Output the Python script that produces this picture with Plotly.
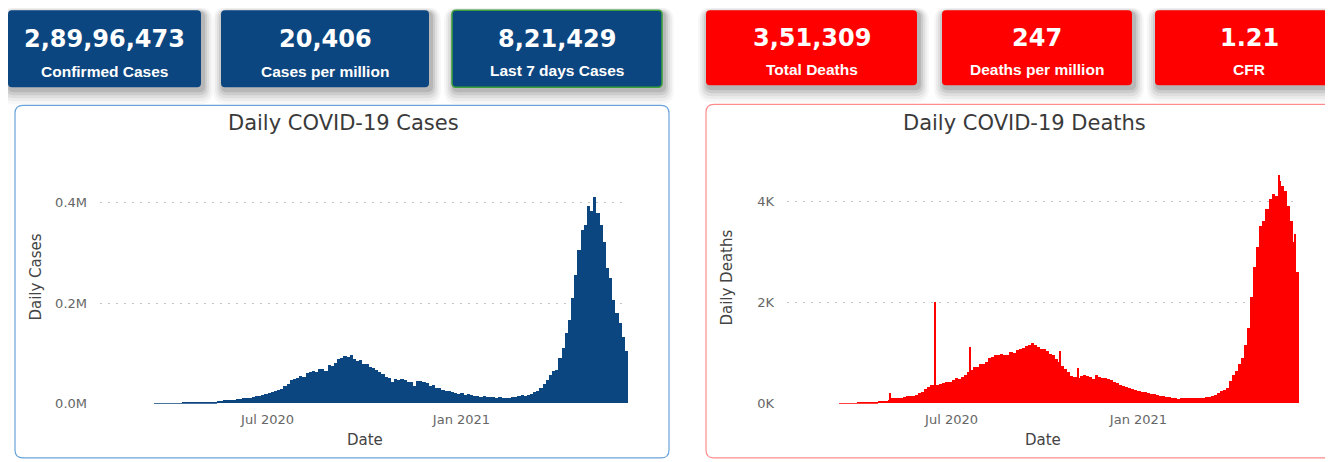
import plotly.graph_objects as go
import pandas as pd

# The page body keeps its default 8px margin; the captured viewport is a little
# taller than the final picture, so vertical layout positions are stretched by YS.
PAGE_MARGIN = 8
YS = 471 / 462
W, H = 1333, 459

# ---------------- data ----------------
START = "2020-01-30"      # first 3-day bin start
BIN_DAYS = 3

# average daily new cases per 3-day bin (thousands)
cases_k = [
    0.001, 0.001, 0, 0, 0, 0, 0, 0, 0, 0,
    0.001, 0.007, 0.008, 0.012, 0.016, 0.025, 0.05, 0.09, 0.1, 0.12,
    0.3, 0.5, 0.6, 0.8, 0.9, 1.0, 1.3, 1.5, 1.6, 1.8,
    1.9, 2.8, 3.4, 3.6, 3.8, 4.2, 5.2, 6.0, 6.6, 6.7,
    7.7, 8.5, 9.6, 9.9, 11.0, 11.4, 12.5, 14.0, 15.0, 17.0,
    19.0, 20.5, 23.5, 24.5, 27.5, 29.0, 34.0, 38.0, 46.0, 49.0,
    51.0, 55.0, 52.0, 60.0, 63.0, 65.0, 62.0, 68.0, 69.0, 64.0,
    76.0, 75.0, 80.0, 89.0, 90.0, 95.0, 93.0, 96.0, 88.0, 85.0,
    86.0, 78.0, 79.0, 73.0, 71.0, 66.0, 63.0, 58.0, 53.0, 51.0,
    43.0, 48.0, 46.0, 48.0, 47.0, 42.0, 42.0, 34.0, 45.0, 44.0,
    42.0, 40.0, 34.0, 36.0, 30.0, 31.0, 27.0, 24.0, 24.0, 22.0,
    21.0, 19.0, 20.0, 17.5, 18.5, 17.0, 14.5, 15.5, 13.5, 14.0,
    12.5, 12.0, 13.0, 11.5, 12.0, 10.5, 11.0, 11.5, 12.5, 13.5,
    14.5, 16.0, 15.0, 17.0, 18.5, 22.0, 25.0, 30.0, 39.0, 46.0,
    56.0, 64.0, 66.0, 90.0, 110.0, 140.0, 165.0, 210.0, 255.0, 305.0,
    345.0, 355.0, 392.0, 382.0, 410.0, 378.0, 355.0, 320.0, 270.0, 250.0,
    205.0, 180.0, 160.0, 132.0, 105.0,
]

# average daily deaths per 3-day bin
deaths = [
    0, 0, 0, 0, 0, 0, 0, 0, 0, 0,
    0, 0, 0, 0, 1, 1, 1.5, 3, 4, 6,
    12, 18, 28, 35, 35, 35, 38, 45, 52, 58,
    70, 100, 105, 105, 105, 120, 140, 140, 150, 170,
    210, 230, 280, 320, 360, 360, 370, 390, 410, 420,
    420, 470, 500, 490, 520, 560, 620, 660, 720, 730,
    770, 780, 820, 900, 920, 950, 960, 980, 960, 950,
    1020, 990, 1050, 1080, 1090, 1130, 1160, 1200, 1150, 1110,
    1080, 1080, 1040, 970, 950, 880, 820, 740, 680, 620,
    540, 530, 500, 540, 560, 550, 520, 480, 560, 520,
    510, 500, 480, 470, 430, 410, 370, 350, 330, 300,
    290, 270, 250, 220, 230, 210, 190, 180, 160, 150,
    140, 130, 120, 110, 100, 95, 100, 100, 100, 100,
    105, 110, 110, 115, 120, 130, 140, 170, 200, 240,
    270, 300, 440, 560, 650, 780, 900, 1150, 1500, 2100,
    2700, 3100, 3500, 3600, 3850, 4050, 4150, 4100, 4400, 4300,
    4200, 3900, 3600, 3200, 2600,
]

# single-day outliers in daily deaths
spike_dates = ["2020-05-01", "2020-06-14", "2020-07-19", "2020-10-15", "2020-11-02",
               "2021-05-19", "2021-06-04"]
spike_deaths = [200, 2000, 1110, 1030, 700, 4520, 3350]

kpi_values = ["2,89,96,473", "20,406", "8,21,429", "3,51,309", "247", "1.21"]
kpi_labels = ["Confirmed Cases", "Cases per million", "Last 7 days Cases",
              "Total Deaths", "Deaths per million", "CFR"]

cases_tickvals = [0, 200000, 400000]
cases_ticktext = ["0.0M", "0.2M", "0.4M"]
deaths_tickvals = [0, 2000, 4000]
deaths_ticktext = ["0K", "2K", "4K"]
date_tickvals = ["2020-07-01", "2021-01-01"]
date_ticktext = ["Jul 2020", "Jan 2021"]

# ---------------- helpers (target pixel -> paper) ----------------
def px_x(p):
    return (p - PAGE_MARGIN) / W

def px_y(p):
    return 1 - (p * YS - PAGE_MARGIN) / H

def rrect(x0, y0, x1, y1, r):
    pts = [
        ("M", [(x0 + r, y0)]), ("L", [(x1 - r, y0)]), ("Q", [(x1, y0), (x1, y0 + r)]),
        ("L", [(x1, y1 - r)]), ("Q", [(x1, y1), (x1 - r, y1)]),
        ("L", [(x0 + r, y1)]), ("Q", [(x0, y1), (x0, y1 - r)]),
        ("L", [(x0, y0 + r)]), ("Q", [(x0, y0), (x0 + r, y0)]),
    ]
    s = ""
    for cmd, coords in pts:
        s += cmd + " " + " ".join(f"{px_x(a):.5f},{px_y(b):.5f}" for a, b in coords) + " "
    return s + "Z"

DAY_MS = 86400000
starts = pd.date_range(START, periods=len(cases_k), freq=f"{BIN_DAYS}D")
centers = starts + pd.Timedelta(hours=12 * BIN_DAYS)
widths = [BIN_DAYS * DAY_MS] * len(cases_k)
spike_x = pd.to_datetime(spike_dates) + pd.Timedelta(hours=12)

BLUE = "#0c4680"
RED = "#ff0000"
FONT = "DejaVu Sans"

fig = go.Figure()
fig.add_trace(go.Bar(x=centers, y=[v * 1000 for v in cases_k], width=widths,
                     marker=dict(color=BLUE, line=dict(width=0)),
                     xaxis="x", yaxis="y", name="Daily Cases"))
fig.add_trace(go.Bar(x=centers, y=deaths, width=widths,
                     marker=dict(color=RED, line=dict(width=0)),
                     xaxis="x2", yaxis="y2", name="Daily Deaths"))
fig.add_trace(go.Bar(x=spike_x, y=spike_deaths, width=[DAY_MS] * len(spike_deaths),
                     marker=dict(color=RED, line=dict(width=0)),
                     xaxis="x2", yaxis="y2", name="Daily Deaths (spikes)"))

# ---------------- shapes ----------------
shapes = []
cards = [(8, 10, 201, 87), (221, 10, 429, 87), (452, 10, 662, 87),
         (706, 10, 917, 85), (942, 10, 1132, 85), (1155, 10, 1343, 85)]
card_colors = [BLUE, BLUE, BLUE, RED, RED, RED]

for (x0, y0, x1, y1) in cards:
    for grow, dy, alpha in [(10, 7, 0.03), (8, 6, 0.045), (6, 5, 0.06), (4, 4, 0.08), (2, 3, 0.1)]:
        shapes.append(dict(type="path", xref="paper", yref="paper", layer="below",
                           path=rrect(x0 - grow + 2, y0 - grow + dy, x1 + grow + 2, y1 + grow + dy, 4 + grow),
                           fillcolor=f"rgba(0,0,0,{alpha})", line=dict(width=0)))
for i, (x0, y0, x1, y1) in enumerate(cards):
    line = dict(width=1.5, color="#3aa03a") if i == 2 else dict(width=0)
    shapes.append(dict(type="path", xref="paper", yref="paper", layer="below",
                       path=rrect(x0, y0, x1, y1, 4), fillcolor=card_colors[i], line=line))

shapes.append(dict(type="path", xref="paper", yref="paper", layer="below",
                   path=rrect(15, 105, 669, 457, 8), fillcolor="white",
                   line=dict(color="#6aa3da", width=1.2)))
shapes.append(dict(type="path", xref="paper", yref="paper", layer="below",
                   path=rrect(706, 104, 1345, 457, 8), fillcolor="white",
                   line=dict(color="#ff8c8c", width=1.2)))

# ---------------- annotations ----------------
ann = []
val_y = [39, 39, 39, 38, 38, 38]
lab_y = [71, 71, 70, 69, 69, 69]
for i, (x0, y0, x1, y1) in enumerate(cards):
    cx = (x0 + x1) / 2
    ann.append(dict(x=px_x(cx), y=px_y(val_y[i]), xref="paper", yref="paper",
                    text=f"<b>{kpi_values[i]}</b>", showarrow=False,
                    xanchor="center", yanchor="middle",
                    font=dict(family=FONT, size=24, color="white")))
    ann.append(dict(x=px_x(cx), y=px_y(lab_y[i]), xref="paper", yref="paper",
                    text=f"<b>{kpi_labels[i]}</b>", showarrow=False,
                    xanchor="center", yanchor="middle",
                    font=dict(family="Liberation Sans", size=15.5, color="white")))

TITLE_C = "#3a3a3a"
AX_C = "#444444"
for txt, cx in [("Daily COVID-19 Cases", 343.5), ("Daily COVID-19 Deaths", 1024.5)]:
    ann.append(dict(x=px_x(cx), y=px_y(123), xref="paper", yref="paper", text=txt,
                    showarrow=False, xanchor="center", yanchor="middle",
                    font=dict(family=FONT, size=21, color=TITLE_C)))
for cx in [365, 1043]:
    ann.append(dict(x=px_x(cx), y=px_y(439), xref="paper", yref="paper", text="Date",
                    showarrow=False, xanchor="center", yanchor="middle",
                    font=dict(family=FONT, size=15, color=AX_C)))
for txt, cx in [("Daily Cases", 36), ("Daily Deaths", 727)]:
    ann.append(dict(x=px_x(cx), y=px_y(277), xref="paper", yref="paper", text=txt,
                    showarrow=False, xanchor="center", yanchor="middle", textangle=-90,
                    font=dict(family=FONT, size=15, color=AX_C)))

# ---------------- axes ----------------
TICK_C = "#666666"
grid = dict(showgrid=True, gridcolor="#c4c4c4", gridwidth=1, griddash="2px,6px",
            zeroline=False, showline=False, ticks="", ticklabelstandoff=12,
            tickfont=dict(family=FONT, size=13, color=TICK_C), fixedrange=True)
xcommon = dict(type="date", showgrid=False, zeroline=False, showline=False, ticks="",
               tickvals=date_tickvals, ticktext=date_ticktext, ticklabelstandoff=6,
               tickfont=dict(family=FONT, size=13, color=TICK_C), fixedrange=True)

fig.update_layout(
    width=W, height=H, margin=dict(l=0, r=0, t=0, b=0),
    paper_bgcolor="white", plot_bgcolor="rgba(0,0,0,0)",
    showlegend=False, barmode="overlay", bargap=0,
    shapes=shapes, annotations=ann,
    xaxis=dict(domain=[px_x(100), px_x(628)], range=["2020-01-24", "2021-06-08"],
               anchor="y", **xcommon),
    yaxis=dict(domain=[px_y(403), px_y(150)], range=[0, 503500], anchor="x",
               tickvals=cases_tickvals, ticktext=cases_ticktext, **grid),
    xaxis2=dict(domain=[px_x(787), px_x(1299)], range=["2020-01-21", "2021-06-08"],
                anchor="y2", **xcommon),
    yaxis2=dict(domain=[px_y(403), px_y(150)], range=[0, 5010], anchor="x2",
                tickvals=deaths_tickvals, ticktext=deaths_ticktext, **grid),
)

fig.write_html("out.html", config={"displayModeBar": False})
